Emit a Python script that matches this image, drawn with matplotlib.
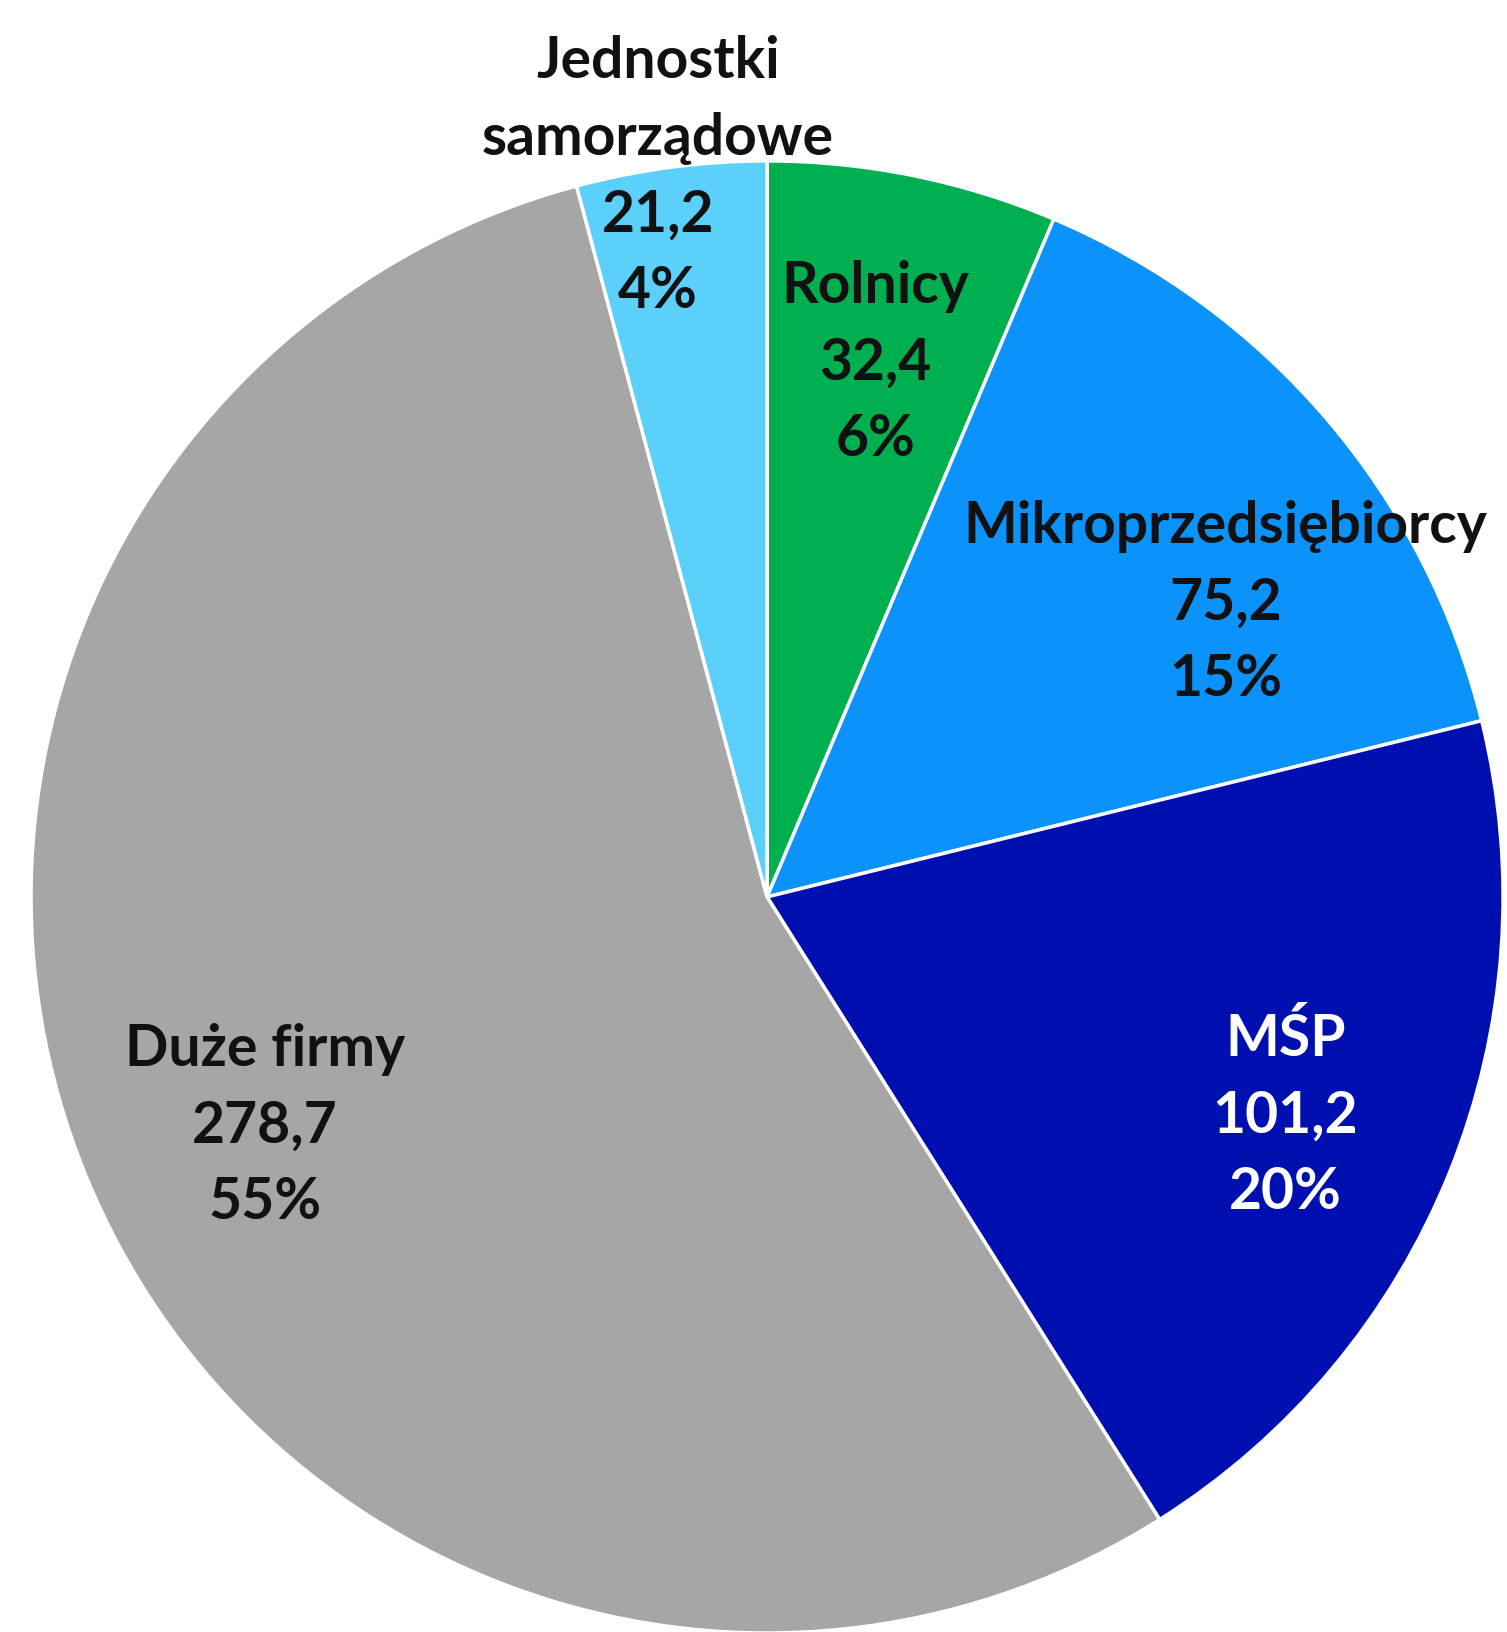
import numpy as np
import matplotlib.pyplot as plt

# Values (mld zł) per group, clockwise from the top
labels = ['Rolnicy', 'Mikroprzedsiębiorcy', 'MŚP', 'Duże firmy', 'Jednostki\nsamorządowe']
values = [32.4, 75.2, 101.2, 278.7, 21.2]
percents = ['6%', '15%', '20%', '55%', '4%']

colors = ['#00B050', '#0B93FB', '#0010B0', '#A6A6A6', '#5BD0FB']
text_colors = ['#111111', '#111111', 'white', '#111111', '#111111']

# label placement (radius fraction, angle shift in degrees)
label_r = [0.74, 0.74, 0.764, 0.75, 0.99]
label_dtheta = [0, -7.8, -0.9, 0.9, 1.1]

fig = plt.figure(figsize=(15.07, 16.32), dpi=100)
ax = fig.add_axes([0.0206, -0.0006, 0.9768, 0.902])

wedges, _ = ax.pie(values, colors=colors, startangle=90, counterclock=False,
                   radius=1, wedgeprops=dict(edgecolor='white', linewidth=2.5))

for w, lab, v, p, tc, r, dt in zip(wedges, labels, values, percents,
                                   text_colors, label_r, label_dtheta):
    mid = np.deg2rad((w.theta1 + w.theta2) / 2 + dt)
    txt = f"{lab}\n{str(v).replace('.', ',')}\n{p}"
    ax.text(r * np.cos(mid), r * np.sin(mid), txt, ha='center', va='center',
            fontsize=41, fontweight='bold', family='Lato', color=tc,
            linespacing=1.55)

ax.set_xlim(-1, 1)
ax.set_ylim(-1, 1)
ax.set_aspect('equal')
ax.axis('off')

plt.savefig('out.png', dpi=100)
